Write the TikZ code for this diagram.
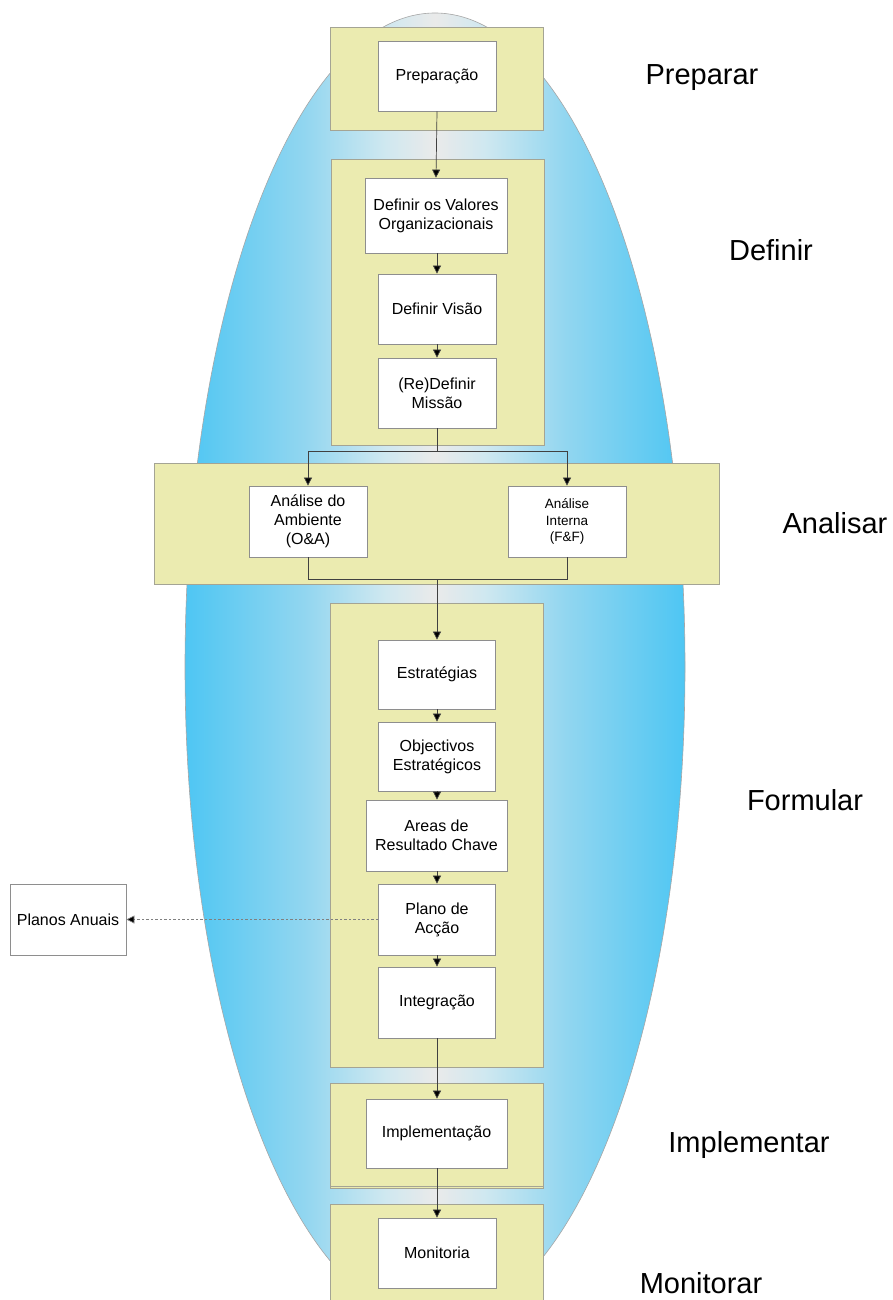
\documentclass[tikz,border=0pt]{standalone}
\usepackage{fontspec}
\setmainfont{Liberation Sans}
\usetikzlibrary{arrows.meta}
\definecolor{skyedge}{HTML}{4EC6F3}
\definecolor{skymid}{HTML}{92D6F0}
\definecolor{skylight}{HTML}{CFE8F0}
\definecolor{skycentre}{HTML}{EAEAEA}
\definecolor{panelfill}{HTML}{EBEBB0}
\definecolor{panelline}{HTML}{A4A494}
\definecolor{boxline}{HTML}{8E8E8E}
\definecolor{conn}{HTML}{404040}
\pgfdeclarehorizontalshading{ellshade}{100bp}{color(0bp)=(skyedge); color(25bp)=(skyedge); color(37bp)=(skymid); color(45bp)=(skylight); color(50bp)=(skycentre); color(55bp)=(skylight); color(63bp)=(skymid); color(75bp)=(skyedge); color(100bp)=(skyedge)}
\tikzset{
  panel/.style={draw=panelline, fill=panelfill, line width=0.8pt, inner sep=0pt},
  stepbox/.style={draw=boxline, fill=white, line width=0.8pt, inner sep=0pt, align=center,
    font=\fontsize{16}{19}\selectfont},
  phase/.style={anchor=base, font=\fontsize{29}{34}\selectfont},
  arr/.style={draw=conn, line width=0.7pt, -{Triangle[length=8pt,width=8pt,fill=black]}},
  ln/.style={draw=conn, line width=0.7pt},
  dasharr/.style={draw=gray, line width=0.7pt, dash pattern=on 2.5pt off 2pt, -{Triangle[length=8pt,width=8pt,fill=black]}}
}
\begin{document}
\begin{tikzpicture}[x=1pt,y=-1pt]
\useasboundingbox (0,0) rectangle (892,1300);
\clip (0,0) rectangle (892,1300);
% background ellipse
\shade[shading=ellshade] (435,667) ellipse [x radius=250, y radius=654];
\draw[gray!70, line width=0.6pt] (435,667) ellipse [x radius=250, y radius=654];

% containers
\node[panel, minimum width=213pt, minimum height=103pt] (c1) at (436.5,78.5) {};
\node[panel, minimum width=213pt, minimum height=286pt] (c2) at (437.5,302) {};
\node[panel, minimum width=565pt, minimum height=121pt] (c3) at (436.5,523.5) {};
\node[panel, minimum width=213pt, minimum height=464pt] (c4) at (436.5,835) {};
\node[panel, minimum width=213pt, minimum height=103pt] (c5) at (436.5,1136.5) {};
\node[panel, minimum width=213pt, minimum height=103pt] (c5b) at (436.5,1134.5) {};
\node[panel, minimum width=213pt, minimum height=106pt] (c6) at (436.5,1257) {};

% steps
\node[stepbox, minimum width=118pt, minimum height=70pt] (prep) at (437,76) {Preparação};
\node[stepbox, minimum width=142pt, minimum height=75pt] (val) at (436,215.5) {Definir os Valores\\Organizacionais};
\node[stepbox, minimum width=118pt, minimum height=70pt] (vis) at (437,309) {Definir Visão};
\node[stepbox, minimum width=118pt, minimum height=70pt] (mis) at (437,393) {(Re)Definir\\Missão};
\node[stepbox, minimum width=118pt, minimum height=71pt] (amb) at (308,521.5) {Análise do\\Ambiente\\(O\&A)};
\node[stepbox, minimum width=118pt, minimum height=71pt, font=\fontsize{13.5}{16.5}\selectfont] (int) at (567,521.5) {Análise\\Interna\\(F\&F)};
\node[stepbox, minimum width=117pt, minimum height=69pt] (est) at (437,674.5) {Estratégias};
\node[stepbox, minimum width=117pt, minimum height=69pt] (obj) at (437,756.5) {Objectivos\\Estratégicos};
\node[stepbox, minimum width=141pt, minimum height=71pt] (area) at (436.5,835.5) {Areas de\\Resultado Chave};
\node[stepbox, minimum width=117pt, minimum height=71pt] (plano) at (437,919.5) {Plano de\\Acção};
\node[stepbox, minimum width=117pt, minimum height=71pt] (integ) at (437,1002.5) {Integração};
\node[stepbox, minimum width=141pt, minimum height=69pt] (impl) at (436.5,1133.5) {Implementação};
\node[stepbox, minimum width=118pt, minimum height=70pt] (mon) at (437,1253) {Monitoria};
\node[stepbox, minimum width=116pt, minimum height=71pt] (anuais) at (68,919.5) {Planos Anuais};

% phase labels
\node[phase] (lprep) at (702,85) {Preparar};
\node[phase] (ldef) at (771,260) {Definir};
\node[phase] (lana) at (835,533) {Analisar};
\node[phase] (lform) at (805,810) {Formular};
\node[phase] (limpl) at (749,1152) {Implementar};
\node[phase] (lmon) at (701,1293) {Monitorar};

% connectors
\coordinate (j1) at (437,451);
\coordinate (j2) at (437,579);
\draw[arr] (prep.south) -- (val.north);
\draw[arr] (val.south -| vis.north) -- (vis.north);
\draw[arr] (vis.south) -- (mis.north);
\draw[ln] (mis.south) -- (j1);
\draw[arr] (j1) -| (amb.north);
\draw[arr] (j1) -| (int.north);
\draw[ln] (amb.south) |- (j2);
\draw[ln] (int.south) |- (j2);
\draw[arr] (j2) -- (est.north);
\draw[arr] (est.south) -- (obj.north);
\draw[arr] (obj.south) -- (obj.south |- area.north);
\draw[arr] (area.south -| plano.north) -- (plano.north);
\draw[arr] (plano.south) -- (integ.north);
\draw[arr] (integ.south) -- (integ.south |- impl.north);
\draw[arr] (impl.south -| mon.north) -- (mon.north);
\draw[dasharr] (plano.west) -- (anuais.east);
\end{tikzpicture}
\end{document}
